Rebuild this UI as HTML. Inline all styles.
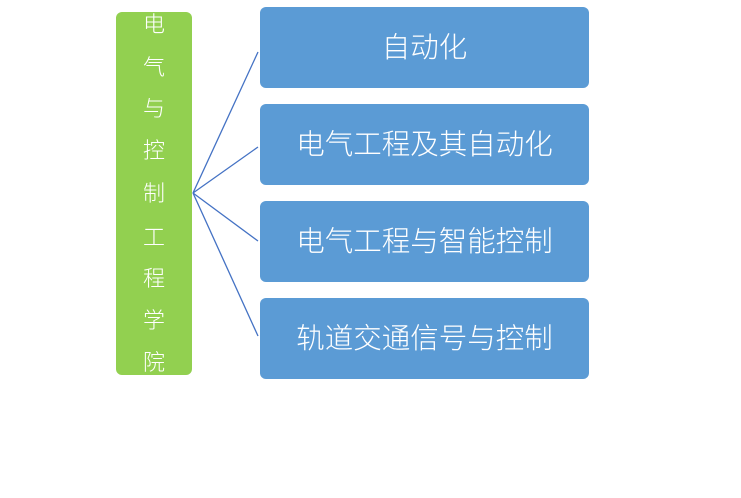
<!DOCTYPE html><html><head><style>
body{margin:0;width:741px;height:498px;background:#fff;overflow:hidden;position:relative;font-family:"Liberation Sans","Noto Sans CJK SC",sans-serif}
.g{position:absolute;left:116px;top:12px;width:76px;height:363px;background:#92d050;border-radius:6px}
.c{position:absolute;left:0;width:76px;text-align:center;color:#fff;font-size:22px;line-height:24px;font-weight:300}
.b{position:absolute;left:260px;width:329px;height:81px;background:#5b9bd5;border-radius:6px;color:#fff;font-size:28.5px;font-weight:300;display:flex;align-items:center;justify-content:center;padding-bottom:4px;box-sizing:border-box}
</style></head><body>
<div class="g">
<div class="c" style="top:1px">电</div><div class="c" style="top:44px">气</div><div class="c" style="top:85px">与</div><div class="c" style="top:127px">控</div><div class="c" style="top:170px">制</div><div class="c" style="top:214px">工</div><div class="c" style="top:255px">程</div><div class="c" style="top:297px">学</div><div class="c" style="top:339px">院</div>
</div>
<svg style="position:absolute;left:0;top:0" width="741" height="498"><g stroke="#4472c4" stroke-width="1.3" fill="none">
<line x1="193" y1="193" x2="258" y2="52"/><line x1="193" y1="193" x2="258" y2="147"/><line x1="193" y1="193" x2="258" y2="241"/><line x1="193" y1="193" x2="258" y2="336"/></g></svg>
<div class="b" style="top:7px">自动化</div>
<div class="b" style="top:104px">电气工程及其自动化</div>
<div class="b" style="top:201px">电气工程与智能控制</div>
<div class="b" style="top:298px">轨道交通信号与控制</div>
</body></html>
